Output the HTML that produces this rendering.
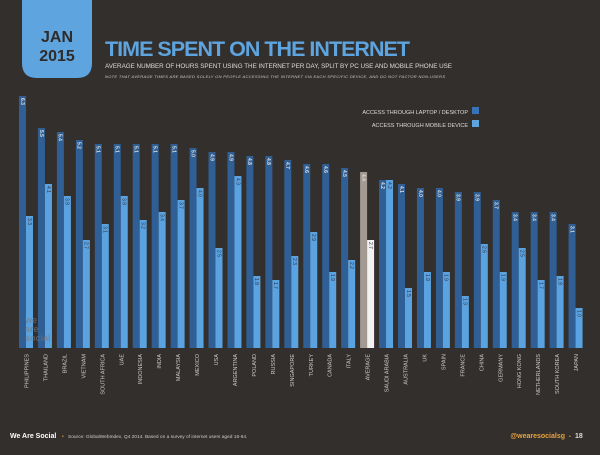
<!DOCTYPE html>
<html><head><meta charset="utf-8"><style>
body{margin:0;background:#332f2d;width:600px;height:450px;overflow:hidden;font-family:"Liberation Sans",sans-serif}
</style></head><body>
<svg width="600" height="450" xmlns="http://www.w3.org/2000/svg" font-family="Liberation Sans, sans-serif">
<rect width="600" height="450" fill="#332f2d"/>
<path d="M22 0H92V63Q92 78 77 78H37Q22 78 22 63Z" fill="#5ea4df"/>
<text x="57" y="42" text-anchor="middle" font-size="16" font-weight="bold" fill="#2e2b2a">JAN</text>
<text x="57" y="61" text-anchor="middle" font-size="16" font-weight="bold" fill="#2e2b2a">2015</text>
<text x="105" y="56" font-size="21.5" font-weight="bold" fill="#5ea4df" textLength="305">TIME SPENT ON THE INTERNET</text>
<text x="105" y="68" font-size="6.3" fill="#ddd" textLength="347">AVERAGE NUMBER OF HOURS SPENT USING THE INTERNET PER DAY, SPLIT BY PC USE AND MOBILE PHONE USE</text>
<text x="105" y="78" font-size="4" fill="#ccc" font-style="italic" textLength="340">NOTE THAT AVERAGE TIMES ARE BASED SOLELY ON PEOPLE ACCESSING THE INTERNET VIA EACH SPECIFIC DEVICE, AND DO NOT FACTOR NON-USERS</text>
<text x="468" y="114" text-anchor="end" font-size="5.5" fill="#ddd">ACCESS THROUGH LAPTOP / DESKTOP</text>
<rect x="472" y="107" width="7" height="7" fill="#3a72b8"/>
<text x="468" y="127" text-anchor="end" font-size="5.5" fill="#ddd">ACCESS THROUGH MOBILE DEVICE</text>
<rect x="472" y="120" width="7" height="7" fill="#5ea4df"/>
<g id="bars"></g>
<text x="10" y="438" font-size="7" font-weight="bold" fill="#fff">We Are Social</text>
<text x="62" y="438" font-size="5" fill="#e8a33d">•</text>
<text x="68" y="438" font-size="4.8" fill="#ccc">Source: GlobalWebIndex, Q4 2014. Based on a survey of internet users aged 16-64.</text>
<text x="565" y="438" text-anchor="end" font-size="7" font-weight="bold" fill="#e8a33d">@wearesocialsg</text>
<text x="569" y="438" font-size="5" fill="#e8a33d">•</text>
<text x="575" y="438" font-size="7" font-weight="bold" fill="#ddd">18</text>
<text x="25" y="323" font-size="9" font-weight="bold" fill="#777" opacity="0.6">we</text>
<text x="25" y="332" font-size="9" font-weight="bold" fill="#777" opacity="0.6">are</text>
<text x="25" y="341" font-size="9" font-weight="bold" fill="#777" opacity="0.6">social</text>
</svg>
<script>
var names=["PHILIPPINES","THAILAND","BRAZIL","VIETNAM","SOUTH AFRICA","UAE","INDONESIA","INDIA","MALAYSIA","MEXICO","USA","ARGENTINA","POLAND","RUSSIA","SINGAPORE","TURKEY","CANADA","ITALY","AVERAGE","SAUDI ARABIA","AUSTRALIA","UK","SPAIN","FRANCE","CHINA","GERMANY","HONG KONG","NETHERLANDS","SOUTH KOREA","JAPAN"];
var pc=[6.3,5.5,5.4,5.2,5.1,5.1,5.1,5.1,5.1,5.0,4.9,4.9,4.8,4.8,4.7,4.6,4.6,4.5,4.4,4.2,4.1,4.0,4.0,3.9,3.9,3.7,3.4,3.4,3.4,3.1];
var mb=[3.3,4.1,3.8,2.7,3.1,3.8,3.2,3.4,3.7,4.0,2.5,4.3,1.8,1.7,2.3,2.9,1.9,2.2,2.7,4.2,1.5,1.9,1.9,1.3,2.6,1.9,2.5,1.7,1.8,1.0];
var g=document.getElementById('bars'),s='',B=348,k=40;
for(var i=0;i<30;i++){var x=19+i*18.95,avg=i==18;
var h1=pc[i]*k,h2=mb[i]*k;
s+='<rect x="'+x+'" y="'+(B-h1)+'" width="7" height="'+h1+'" fill="'+(avg?'#a39a94':'#2f5f94')+'"/>';
s+='<rect x="'+(x+7)+'" y="'+(B-h2)+'" width="7" height="'+h2+'" fill="'+(avg?'#f2f2f2':'#5ba3e0')+'"/>';
s+='<text transform="translate('+(x+1.8)+','+(B-h1+2)+') rotate(90)" font-size="5" font-weight="bold" fill="#ddd">'+pc[i].toFixed(1)+'</text>';
s+='<text transform="translate('+(x+8.8)+','+(B-h2+2)+') rotate(90)" font-size="5" fill="#334">'+mb[i].toFixed(1)+'</text>';
s+='<text transform="translate('+(x+9.5)+',354) rotate(-90)" text-anchor="end" font-size="5.5" fill="#ccc">'+names[i]+'</text>';}
g.innerHTML=s;
</script>
</body></html>
